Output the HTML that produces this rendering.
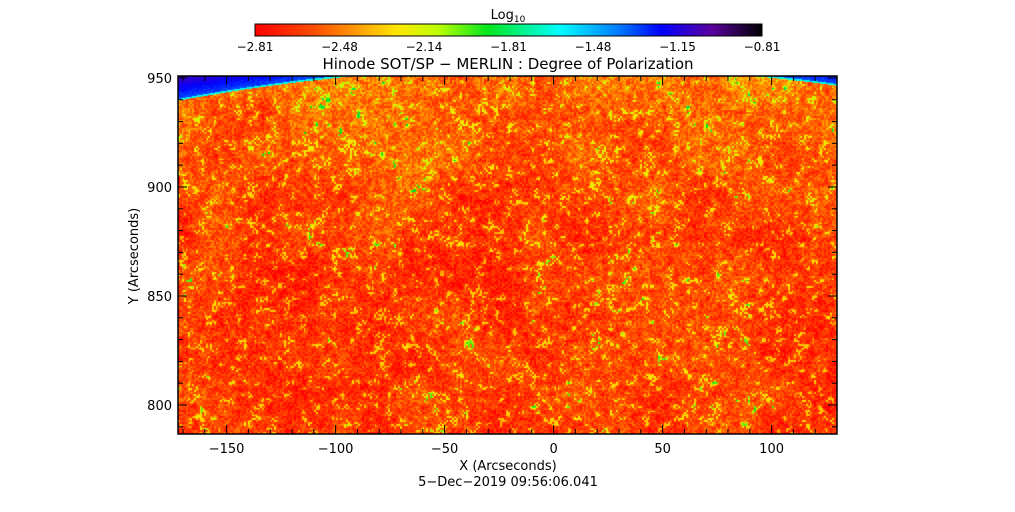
<!DOCTYPE html>
<html><head><meta charset="utf-8"><style>
html,body{margin:0;padding:0;background:#fff;width:1015px;height:512px;overflow:hidden}
#wrap{position:relative;width:1015px;height:512px;font-family:"DejaVu Sans","Liberation Sans",sans-serif;color:#000}
canvas{position:absolute;left:178px;top:76px}
svg{position:absolute;left:0;top:0}
</style></head><body>
<div id="wrap">
<canvas id="map" width="659" height="358"></canvas>
<svg id="ov" width="1015" height="512"></svg>
</div>
<script>
const xTicks=[-150,-100,-50,0,50,100];
const yTicks=[800,850,900,950];
const cbLabels=["-2.81","-2.48","-2.14","-1.81","-1.48","-1.15","-0.81"];
const xRange=[-172.3,130.0];
const yRange=[786.7,950.9];
const limbRadius=955.5;

const PL=178,PR=837,PT=76,PB=434;
const sx=v=>PL+(v-xRange[0])/(xRange[1]-xRange[0])*(PR-PL);
const sy=v=>PB-(v-yRange[0])/(yRange[1]-yRange[0])*(PB-PT);
const stops=[[0,255,0,0],[0.12,255,80,0],[0.28,255,230,0],[0.36,190,255,0],[0.46,0,230,30],[0.6,0,255,255],[0.72,0,120,255],[0.8,0,0,255],[0.9,90,0,160],[1,0,0,0]];
function cmap(t){t=Math.max(0,Math.min(1,t));for(let i=1;i<stops.length;i++){if(t<=stops[i][0]){const a=stops[i-1],b=stops[i],f=(t-a[0])/(b[0]-a[0]);return [a[1]+f*(b[1]-a[1]),a[2]+f*(b[2]-a[2]),a[3]+f*(b[3]-a[3])];}}return [0,0,0];}
function h(x,y,s){let n=(x*374761393+y*668265263+s*982451653)|0;n=(n^(n>>>13))*1274126177|0;return ((n^(n>>>16))>>>0)/4294967295;}
function vn(x,y,sc,s){const gx=x/sc,gy=y/sc,ix=Math.floor(gx),iy=Math.floor(gy),fx=gx-ix,fy=gy-iy;
const a=h(ix,iy,s),b=h(ix+1,iy,s),c=h(ix,iy+1,s),d=h(ix+1,iy+1,s);const u=fx*fx*(3-2*fx),v=fy*fy*(3-2*fy);return a+(b-a)*u+(c-a)*v+(a-b-c+d)*u*v;}
const cv=document.getElementById('map'),ctx=cv.getContext('2d');
const W=cv.width,H=cv.height,img=ctx.createImageData(W,H);
for(let y=0;y<H;y++)for(let x=0;x<W;x++){
 const ax=xRange[0]+(x/W)*(xRange[1]-xRange[0]);
 const ay=yRange[1]-(y/H)*(yRange[1]-yRange[0]);
 const limb=Math.sqrt(limbRadius*limbRadius-ax*ax);
 const d=ay-limb; let t;
 if(d>0){t=(d<0.8?0.58:0.74)+Math.min(0.14,d*0.012)+(h(x,y,3)-0.5)*0.04;}
 else{
  const cx=x>>1,cy=y>>1;
  const big=vn(x,y,40,1),mid=vn(x,y,6,2),fine=h(cx,cy,5);
  const top=Math.max(0,(ay-870)/80)*0.07;
  let v=0.03+top+(big-0.5)*0.08+(mid-0.5)*0.1+fine*0.12;
  if(mid>0.7 && fine>0.6) v+=0.1;
  if(mid>0.9 && big>0.6 && fine>0.5) v+=0.12;
  t=Math.max(0,v);
 }
 const c=cmap(t),i=(y*W+x)*4;img.data[i]=c[0];img.data[i+1]=c[1];img.data[i+2]=c[2];img.data[i+3]=255;}
ctx.putImageData(img,0,0);
const NS="http://www.w3.org/2000/svg",svg=document.getElementById('ov');
function el(t,a,p){const e=document.createElementNS(NS,t);for(const k in a)e.setAttribute(k,a[k]);(p||svg).appendChild(e);return e;}
const defs=el('defs',{});const g=el('linearGradient',{id:'cb',x1:0,x2:1,y1:0,y2:0},defs);
stops.forEach(s=>el('stop',{offset:s[0],'stop-color':`rgb(${s[1]},${s[2]},${s[3]})`},g));
const cbar=el('rect',{x:255,y:24,width:507,height:12,fill:'url(#cb)',stroke:'#000','stroke-width':1});


const cbt=el('text',{x:508,y:19,'font-size':13,'text-anchor':'middle'});cbt.innerHTML='Log<tspan font-size="9" dy="3">10</tspan>';


cbLabels.forEach((l,i)=>{const t=el('text',{x:255+i*507/(cbLabels.length-1),y:51,'font-size':12,'text-anchor':'middle'});t.textContent=l.replace('-','\u2212');

});
const ti=el('text',{x:508,y:69,'font-size':15,'text-anchor':'middle'});ti.textContent='Hinode SOT/SP \u2212 MERLIN : Degree of Polarization';


const fr=el('rect',{x:PL,y:PT,width:PR-PL,height:PB-PT,fill:'none',stroke:'#000','stroke-width':1.5});


for(let v=-170;v<=130;v+=10){const X=sx(v),L=(v%50===0)?9:5;el('line',{x1:X,x2:X,y1:PB,y2:PB-L,stroke:'#000'});el('line',{x1:X,x2:X,y1:PT,y2:PT+L,stroke:'#000'});}
for(let v=790;v<=950;v+=10){const Y=sy(v),L=(v%50===0)?9:5;el('line',{x1:PL,x2:PL+L,y1:Y,y2:Y,stroke:'#000'});el('line',{x1:PR,x2:PR-L,y1:Y,y2:Y,stroke:'#000'});}
xTicks.forEach(v=>{const t=el('text',{x:sx(v),y:453,'font-size':13,'text-anchor':'middle'});t.textContent=String(v).replace('-','\u2212');

});
yTicks.forEach(v=>{const t=el('text',{x:172,y:sy(v)+5,'font-size':13,'text-anchor':'end'});t.textContent=v;

});
const xt=el('text',{x:508,y:470,'font-size':13,'text-anchor':'middle'});xt.textContent='X (Arcseconds)';


const yt=el('text',{x:0,y:0,'font-size':13,'text-anchor':'middle',transform:'translate(138,256) rotate(-90)'});yt.textContent='Y (Arcseconds)';


const ts=el('text',{x:508,y:486,'font-size':13,'text-anchor':'middle'});ts.textContent='5\u2212Dec\u22122019 09:56:06.041';


</script>
</body></html>
